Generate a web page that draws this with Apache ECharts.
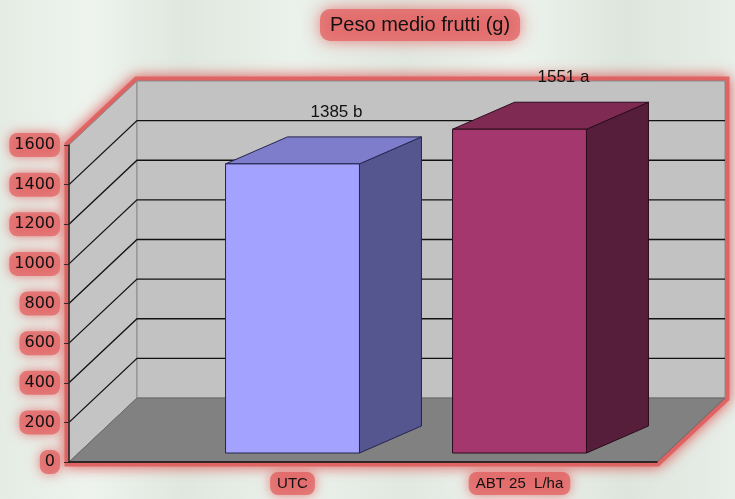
<!DOCTYPE html>
<html>
<head>
<meta charset="utf-8">
<script src="https://cdn.jsdelivr.net/npm/echarts@6/dist/echarts.min.js"></script>
<style>
  html, body { margin: 0; padding: 0; }
  #chart { width: 735px; height: 499px; }
</style>
</head>
<body>
<div id="chart"></div>
<script>
// data
const categories = ["UTC", "ABT 25  L/ha"];
const pesoMedio = [1385, 1551];
const lettere = ["b", "a"];
const yTicks = [0, 200, 400, 600, 800, 1000, 1200, 1400, 1600];

// 3D look: depth offset of the walls and of the bars
const DX = 68, DY = -64;
const BDX = 62, BDY = -27;

const barColors = [
  { front: "#a3a3ff", top: "#7d7dcc", side: "#555590", edge: "#24244e" },
  { front: "#a4386e", top: "#7e2a53", side: "#561e3b", edge: "#2a0c1c" }
];

const glowLabel = {
  backgroundColor: "rgba(226,104,104,0.8)",
  shadowBlur: 12,
  shadowColor: "rgba(226,90,90,0.95)",
  borderRadius: 8
};

const chart = echarts.init(document.getElementById("chart"));

function renderWalls(params, api) {
  const yMax = yTicks[yTicks.length - 1];
  const p0 = api.coord([0, 0]);
  const p1 = api.coord([1, 0]);
  const pt = api.coord([0, yMax]);
  const back = (p) => [p[0] + DX, p[1] + DY];
  const bx = p1[0] + DX;
  const children = [];

  // red glow frame
  children.push({
    type: "polygon",
    shape: { points: [p0, pt, back(pt), [bx, back(pt)[1]], back(p1), p1] },
    style: {
      fill: "rgba(222,92,92,0.9)",
      stroke: "rgba(222,92,92,0.85)",
      lineWidth: 9,
      shadowBlur: 14,
      shadowColor: "rgba(222,70,70,0.9)"
    }
  });
  // side wall
  children.push({
    type: "polygon",
    shape: { points: [p0, pt, back(pt), back(p0)] },
    style: { fill: "#c4c4c4", stroke: "#8a8a8a", lineWidth: 1 }
  });
  // back wall
  children.push({
    type: "polygon",
    shape: { points: [back(p0), back(pt), [bx, back(pt)[1]], back(p1)] },
    style: { fill: "#c2c2c2", stroke: "#8a8a8a", lineWidth: 1 }
  });
  // floor
  children.push({
    type: "polygon",
    shape: { points: [p0, back(p0), back(p1), p1] },
    style: { fill: "#818181", stroke: "#6a6a6a", lineWidth: 1 }
  });
  // grid lines: diagonal on side wall, horizontal on back wall
  yTicks.forEach((v) => {
    if (v === 0 || v === yMax) return;
    const f = api.coord([0, v]);
    const b = back(f);
    children.push({
      type: "polyline",
      shape: { points: [f, b, [bx, b[1]]] },
      style: { stroke: "#111", lineWidth: 1.3, fill: null }
    });
  });
  return { type: "group", children: children };
}

function renderBar(params, api) {
  const idx = api.value(0);
  const v = api.value(1);
  const c = barColors[idx];
  const topC = api.coord([idx, v]);
  const botC = api.coord([idx, 0]);
  const w = api.size([1, 0])[0] * 0.59;
  const x0 = topC[0] - w / 2, x1 = topC[0] + w / 2;
  const yT = topC[1], yB = botC[1];
  return {
    type: "group",
    children: [
      {
        type: "polygon",
        shape: { points: [[x1, yT], [x1 + BDX, yT + BDY], [x1 + BDX, yB + BDY], [x1, yB]] },
        style: { fill: c.side, stroke: c.edge, lineWidth: 1 }
      },
      {
        type: "polygon",
        shape: { points: [[x0, yT], [x1, yT], [x1 + BDX, yT + BDY], [x0 + BDX, yT + BDY]] },
        style: { fill: c.top, stroke: c.edge, lineWidth: 1 }
      },
      {
        type: "rect",
        shape: { x: x0, y: yT, width: w, height: yB - yT },
        style: { fill: c.front, stroke: c.edge, lineWidth: 1 }
      },
      {
        type: "text",
        x: topC[0] + BDX / 2 + 13,
        y: yT + BDY - 25,
        style: {
          text: v + " " + lettere[idx],
          fill: "#111",
          font: "17px 'Liberation Sans', Arial, sans-serif",
          align: "center",
          verticalAlign: "middle"
        }
      }
    ]
  };
}

const option = {
  animation: false,
  backgroundColor: new echarts.graphic.LinearGradient(0, 0, 1, 0, [
    { offset: 0, color: "#e4ece4" },
    { offset: 0.12, color: "#eef3ee" },
    { offset: 0.25, color: "#dfe8df" },
    { offset: 0.4, color: "#ebf1eb" },
    { offset: 0.55, color: "#e1e9e1" },
    { offset: 0.7, color: "#edf2ed" },
    { offset: 0.85, color: "#dde6dd" },
    { offset: 1, color: "#e8eee8" }
  ]),
  title: {
    text: "Peso medio frutti (g)",
    left: 320,
    top: 9,
    padding: [6, 10],
    backgroundColor: "rgba(226,104,104,0.8)",
    borderRadius: 10,
    shadowBlur: 16,
    shadowColor: "rgba(226,90,90,0.95)",
    textStyle: {
      fontFamily: "'Liberation Sans Narrow', 'Liberation Sans', Arial, sans-serif",
      fontSize: 20,
      fontWeight: "normal",
      color: "#111"
    }
  },
  grid: [
    { left: 69, right: 78, top: 145, bottom: 37 },
    { left: 179, right: 102, top: 119, bottom: 46 }
  ],
  xAxis: [
    {
      gridIndex: 0,
      type: "value",
      min: 0,
      max: 1,
      z: 5,
      axisLine: { show: true, lineStyle: { color: "#111", width: 1.5 } },
      axisTick: { show: false },
      axisLabel: { show: false },
      splitLine: { show: false }
    },
    {
      gridIndex: 1,
      type: "category",
      data: categories,
      axisLine: { show: false },
      axisTick: { show: false },
      splitLine: { show: false },
      axisLabel: Object.assign({
        margin: 19,
        padding: [4, 7],
        color: "#111",
        fontSize: 15,
        fontFamily: "'Liberation Sans', Arial, sans-serif"
      }, glowLabel)
    }
  ],
  yAxis: [
    {
      gridIndex: 0,
      type: "value",
      min: 0,
      max: 1600,
      interval: 200,
      z: 5,
      axisLine: { show: true, lineStyle: { color: "#222", width: 1.5 } },
      axisTick: { show: true, length: 5, lineStyle: { color: "#222" } },
      splitLine: { show: false },
      axisLabel: Object.assign({
        margin: 9,
        padding: [4, 5],
        color: "#111",
        fontSize: 16,
        fontFamily: "'DejaVu Sans', Verdana, sans-serif",
        formatter: (v) => String(v)
      }, glowLabel)
    },
    {
      gridIndex: 1,
      type: "value",
      min: 0,
      max: 1600,
      show: false
    }
  ],
  series: [
    {
      type: "custom",
      xAxisIndex: 0,
      yAxisIndex: 0,
      z: 1,
      silent: true,
      renderItem: renderWalls,
      data: [[0, 0]]
    },
    {
      type: "custom",
      xAxisIndex: 1,
      yAxisIndex: 1,
      z: 3,
      renderItem: renderBar,
      data: pesoMedio.map((v, i) => [i, v])
    }
  ]
};

chart.setOption(option);
</script>
</body>
</html>
